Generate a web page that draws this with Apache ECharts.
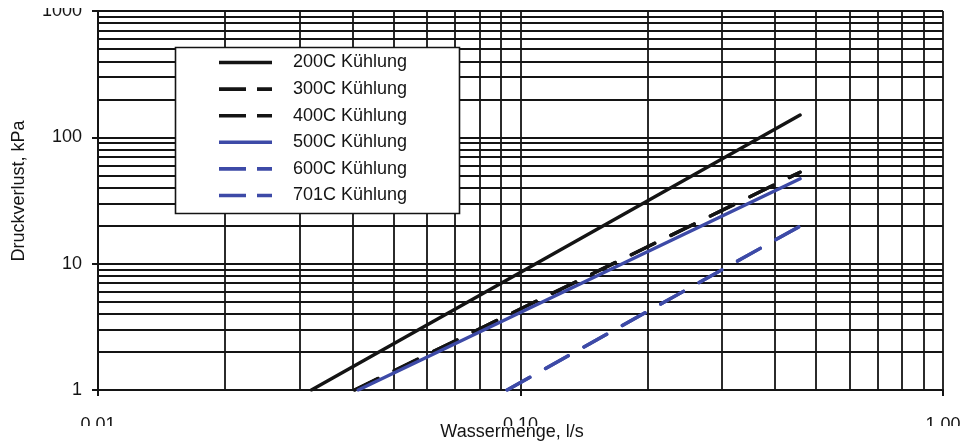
<!DOCTYPE html>
<html>
<head>
<meta charset="utf-8">
<script src="https://cdn.jsdelivr.net/npm/echarts@6/dist/echarts.min.js"></script>
<style>
  html, body { margin: 0; padding: 0; background: #fff; }
  #chart { width: 980px; height: 446px; }
</style>
</head>
<body>
<div id="chart"></div>
<script>
// Pressure drop against water flow for the cooling variants (log-log, straight runs)
const seriesNames = ['200C Kühlung', '300C Kühlung', '400C Kühlung', '500C Kühlung', '600C Kühlung', '701C Kühlung'];

const flow200 = [0.032, 0.459];   // l/s
const drop200 = [1, 150];         // kPa
const flow300 = [0.0405, 0.459];
const drop300 = [1, 53];
const flow400 = [0.0405, 0.459];
const drop400 = [1, 53];
const flow500 = [0.0413, 0.459];
const drop500 = [1, 47];
const flow600 = [0.093, 0.461];
const drop600 = [1, 20];
const flow701 = [0.093, 0.461];
const drop701 = [1, 20];

const xTickValues = [0.01, 0.1, 1];
const xTickLabels = ['0.01', '0.10', '1.00'];
const yTickValues = [1, 10, 100, 1000];
const yTickLabels = ['1', '10', '100', '1000'];

const FONT = '"Liberation Sans", Arial, Helvetica, sans-serif';
const INK = '#141414';
const BLUE = '#3d4aa7';

function pairs(xs, ys) { return xs.map((x, i) => [x, ys[i]]); }
function labelFor(values, labels) {
  return function (v) {
    let best = 0, d = Infinity;
    values.forEach((t, i) => {
      const e = Math.abs(Math.log10(v) - Math.log10(t));
      if (e < d) { d = e; best = i; }
    });
    return d < 1e-6 ? labels[best] : '';
  };
}

// intermediate grid lines 2..9 within each decade
const xMinor = [];
[0.01, 0.1].forEach(dec => { for (let k = 2; k <= 9; k++) xMinor.push(+(dec * k).toPrecision(3)); });
const yMinor = [];
[1, 10, 100].forEach(dec => { for (let k = 2; k <= 9; k++) yMinor.push(dec * k); });

const dashPattern = [26, 18];
const keyDash = [27, 11];

const styles = [
  { color: INK, dashed: false },
  { color: INK, dashed: true },
  { color: INK, dashed: true },
  { color: BLUE, dashed: false },
  { color: BLUE, dashed: true },
  { color: BLUE, dashed: true }
];
const dataSets = [
  pairs(flow200, drop200), pairs(flow300, drop300), pairs(flow400, drop400),
  pairs(flow500, drop500), pairs(flow600, drop600), pairs(flow701, drop701)
];

const curveSeries = seriesNames.map((name, i) => ({
  name: name,
  type: 'line',
  data: dataSets[i],
  symbol: 'none',
  z: 5,
  color: styles[i].color,
  lineStyle: { color: styles[i].color, width: 3.4, type: styles[i].dashed ? dashPattern : 'solid', cap: 'round' }
}));

const gridSeries = {
  name: 'grid',
  type: 'line',
  data: [],
  z: 1,
  silent: true,
  markLine: {
    silent: true,
    animation: false,
    symbol: ['none', 'none'],
    label: { show: false },
    lineStyle: { color: INK, width: 1.8, type: 'solid' },
    emphasis: { disabled: true },
    data: xMinor.map(v => ({ xAxis: v })).concat(yMinor.map(v => ({ yAxis: v })))
  }
};

// key box: frame, one sample stroke and one name per curve
const KEY = { left: 175.5, top: 47.5, width: 284, height: 166, firstRow: 62.5, rowStep: 26.6, lineX0: 219, lineX1: 272, textX: 293 };
const keyElements = [{
  type: 'rect', z: 40, silent: true,
  shape: { x: KEY.left, y: KEY.top, width: KEY.width, height: KEY.height },
  style: { fill: '#fff', stroke: INK, lineWidth: 1.6 }
}];
seriesNames.forEach((name, i) => {
  const y = KEY.firstRow + i * KEY.rowStep;
  keyElements.push({
    type: 'line', z: 41, silent: true,
    shape: { x1: KEY.lineX0, y1: y, x2: KEY.lineX1, y2: y },
    style: { stroke: styles[i].color, lineWidth: 3.6, lineDash: styles[i].dashed ? keyDash : null, lineCap: 'butt' }
  });
  keyElements.push({
    type: 'text', z: 41, silent: true, x: KEY.textX, y: y,
    style: { text: name, font: '18px ' + FONT, fill: INK, align: 'left', verticalAlign: 'middle' }
  });
});

const chart = echarts.init(document.getElementById('chart'), null, { renderer: 'canvas' });
chart.setOption({
  animation: false,
  backgroundColor: '#fff',
  textStyle: { fontFamily: FONT },
  grid: { left: 98, right: 37, top: 11, bottom: 56, containLabel: false },
  xAxis: {
    type: 'log', logBase: 10, min: 0.01, max: 1,
    axisLine: { show: true, lineStyle: { color: INK, width: 2 } },
    axisTick: { show: true, length: 6, inside: false, lineStyle: { color: INK, width: 2 } },
    splitLine: { show: true, lineStyle: { color: INK, width: 1.8 } },
    minorTick: { show: false }, minorSplitLine: { show: false },
    axisLabel: { fontSize: 18, color: INK, fontFamily: FONT, margin: 26, formatter: labelFor(xTickValues, xTickLabels), showMinLabel: true, showMaxLabel: true }
  },
  yAxis: {
    type: 'log', logBase: 10, min: 1, max: 1000,
    axisLine: { show: true, lineStyle: { color: INK, width: 2 } },
    axisTick: { show: true, length: 6, inside: false, lineStyle: { color: INK, width: 2 } },
    splitLine: { show: true, lineStyle: { color: INK, width: 1.8 } },
    minorTick: { show: false }, minorSplitLine: { show: false },
    axisLabel: { fontSize: 18, color: INK, fontFamily: FONT, margin: 16, formatter: labelFor(yTickValues, yTickLabels), showMinLabel: true, showMaxLabel: true }
  },
  graphic: [
    { type: 'rect', z: 50, silent: true, shape: { x: 0, y: 0, width: 980, height: 8 }, style: { fill: '#fff' } },
    { type: 'rect', z: 50, silent: true, shape: { x: 0, y: 426, width: 980, height: 20 }, style: { fill: '#fff' } },
    { type: 'text', z: 60, silent: true, x: 512, y: 432,
      style: { text: 'Wassermenge, l/s', font: '18px ' + FONT, fill: INK, align: 'center', verticalAlign: 'middle' } },
    { type: 'text', z: 60, silent: true, x: 19, y: 191, rotation: Math.PI / 2,
      style: { text: 'Druckverlust, kPa', font: '18px ' + FONT, fill: INK, align: 'center', verticalAlign: 'middle' } }
  ].concat(keyElements),
  series: [gridSeries].concat(curveSeries)
});
</script>
</body>
</html>
